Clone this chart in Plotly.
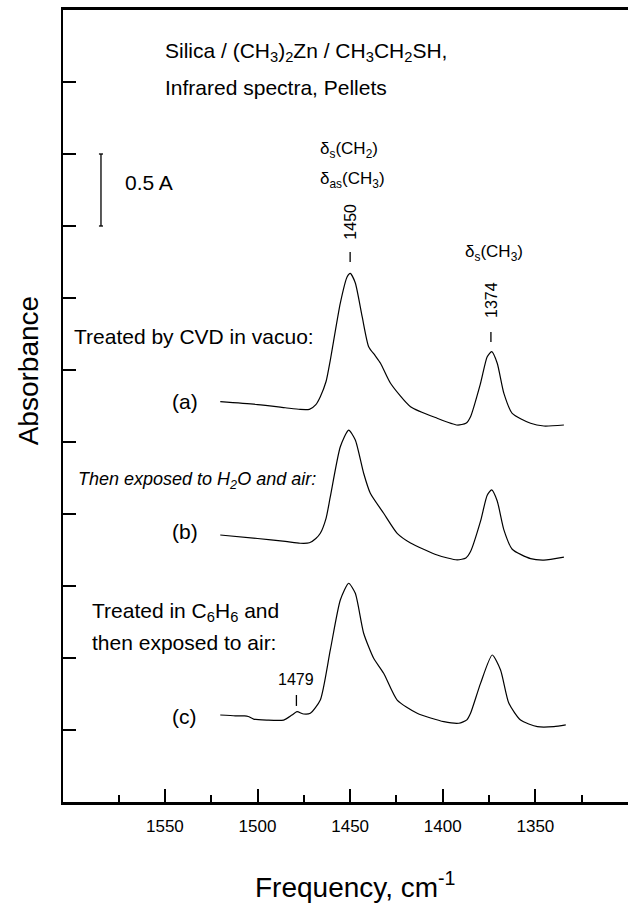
import plotly.graph_objects as go

# ---- data (frequency in cm-1, absorbance with vertical offsets) ----
freq_a = [1520.1, 1500.0, 1485.0, 1477.0, 1472.0, 1468.5, 1466.1, 1463.0, 1460.7, 1455.3, 1451.6,
          1449.9, 1447.2, 1443.5, 1440.0, 1436.5, 1433.6, 1428.2, 1417.4, 1403.0, 1392.2, 1387.5,
          1385.0, 1379.6, 1376.0, 1373.6, 1370.6, 1367.0, 1362.5, 1352.6, 1345.4, 1334.6]
abs_a = [2.780, 2.760, 2.738, 2.726, 2.727, 2.760, 2.815, 2.920, 3.069, 3.465, 3.648,
         3.671, 3.604, 3.370, 3.162, 3.100, 3.047, 2.908, 2.745, 2.665, 2.618, 2.630,
         2.676, 2.908, 3.092, 3.127, 3.047, 2.838, 2.699, 2.630, 2.611, 2.618]

freq_b = [1520.1, 1500.0, 1485.0, 1477.0, 1472.0, 1468.5, 1466.1, 1463.0, 1460.7, 1455.3, 1450.8,
          1447.2, 1442.7, 1439.1, 1431.9, 1424.6, 1417.4, 1403.0, 1392.2, 1387.5, 1385.0, 1379.6,
          1376.0, 1373.6, 1370.6, 1367.0, 1362.5, 1352.6, 1345.4, 1334.6]
abs_b = [1.854, 1.830, 1.810, 1.797, 1.800, 1.830, 1.866, 1.970, 2.120, 2.467, 2.583,
         2.514, 2.283, 2.144, 2.005, 1.866, 1.799, 1.715, 1.681, 1.695, 1.739, 1.950,
         2.130, 2.167, 2.090, 1.890, 1.755, 1.690, 1.680, 1.701]

freq_c = [1520.1, 1512.0, 1507.0, 1505.0, 1502.1, 1495.0, 1485.9, 1481.4, 1478.7, 1475.1, 1471.5,
          1466.1, 1460.7, 1455.3, 1450.8, 1447.2, 1442.7, 1437.3, 1431.9, 1424.6, 1413.8, 1399.4,
          1391.3, 1387.0, 1385.0, 1379.6, 1373.3, 1368.8, 1364.3, 1358.0, 1348.9, 1340.0, 1333.6]
abs_c = [0.604, 0.598, 0.598, 0.594, 0.576, 0.569, 0.569, 0.604, 0.627, 0.611, 0.616,
         0.708, 1.056, 1.403, 1.519, 1.449, 1.172, 0.998, 0.894, 0.708, 0.616, 0.558,
         0.547, 0.570, 0.616, 0.824, 1.021, 0.917, 0.685, 0.569, 0.523, 0.523, 0.535]

major_ticks = [1550, 1500, 1450, 1400, 1350]
minor_ticks = [1575, 1525, 1475, 1425, 1375, 1325]
y_ticks = [0.5, 1.0, 1.5, 2.0, 2.5, 3.0, 3.5, 4.0, 4.5, 5.0]

FONT = "Arial, Liberation Sans, Helvetica, sans-serif"

fig = go.Figure()
for fx, fy in [(freq_a, abs_a), (freq_b, abs_b), (freq_c, abs_c)]:
    fig.add_trace(go.Scatter(x=fx, y=fy, mode="lines", showlegend=False,
                             line=dict(color="black", width=1.2, shape="spline", smoothing=0.6)))

def ann(text, x, y, size=16, xanchor="left", angle=0, xref="x", yref="y"):
    fig.add_annotation(text=text, x=x, y=y, xref=xref, yref=yref, showarrow=False,
                       xanchor=xanchor, yanchor="middle", textangle=angle,
                       font=dict(family=FONT, size=size, color="black"))

ann("Silica / (CH<sub>3</sub>)<sub>2</sub>Zn / CH<sub>3</sub>CH<sub>2</sub>SH,", 1550.9, 5.208, 21)
ann("Infrared spectra, Pellets", 1550.9, 4.965, 21)
ann("0.5 A", 1572.6, 4.30, 21)
ann("δ<sub>s</sub>(CH<sub>2</sub>)", 1467.2, 4.528, 17)
ann("δ<sub>as</sub>(CH<sub>3</sub>)", 1467.2, 4.320, 17)
ann("1450", 1450, 4.031, 16, xanchor="center", angle=-90)
ann("δ<sub>s</sub>(CH<sub>3</sub>)", 1389.3, 3.8125, 17)
ann("1374", 1374, 3.486, 16, xanchor="center", angle=-90)
ann("Treated by CVD in vacuo:", 1600.1, 3.236, 21)
ann("(a)", 1539.3, 2.78, 21, xanchor="center")
ann("<i>Then exposed to H<sub>2</sub>O and air:</i>", 1598.0, 2.236, 18)
ann("(b)", 1539.3, 1.877, 21, xanchor="center")
ann("Treated in C<sub>6</sub>H<sub>6</sub> and", 1590.4, 1.319, 21)
ann("then exposed to air:", 1590.4, 1.111, 21)
ann("1479", 1479, 0.854, 16, xanchor="center")
ann("(c)", 1539.3, 0.593, 21, xanchor="center")
ann("Absorbance", -0.062, 0.545, 28, xanchor="center", angle=-90, xref="paper", yref="paper")
ann("Frequency, cm<sup>-1</sup>", 0.517, -0.105, 28, xanchor="center", xref="paper", yref="paper")

# scale bar and peak markers
line_style = dict(color="black", width=1.3)
fig.add_shape(type="line", x0=1584.5, x1=1584.5, y0=4.0, y1=4.5, line=line_style)
fig.add_shape(type="line", x0=1585.6, x1=1583.4, y0=4.5, y1=4.5, line=line_style)
fig.add_shape(type="line", x0=1585.6, x1=1583.4, y0=4.0, y1=4.0, line=line_style)
fig.add_shape(type="line", x0=1450, x1=1450, y0=3.75, y1=3.82, line=line_style)
fig.add_shape(type="line", x0=1374, x1=1374, y0=3.194, y1=3.264, line=line_style)
fig.add_shape(type="line", x0=1479, x1=1479, y0=0.667, y1=0.743, line=line_style)

fig.update_layout(
    width=628, height=913,
    margin=dict(l=63, r=0, t=10, b=111),
    paper_bgcolor="white", plot_bgcolor="white",
    font=dict(family=FONT, color="black"),
    xaxis=dict(range=[1605, 1300], showline=True, linecolor="black", linewidth=2.5, mirror=True,
               ticks="inside", ticklen=13, tickwidth=1.5, tickcolor="black",
               tickmode="array", tickvals=major_ticks, ticktext=[str(v) for v in major_ticks],
               tickfont=dict(size=17, family=FONT), showgrid=False, zeroline=False,
               ticklabelstandoff=7,
               minor=dict(tickmode="array", tickvals=minor_ticks, ticks="inside", ticklen=7,
                          tickwidth=1.5, tickcolor="black", showgrid=False)),
    yaxis=dict(range=[0, 5.5], showline=True, linecolor="black", linewidth=2,
               ticks="inside", ticklen=13, tickwidth=1.5, tickcolor="black",
               tickmode="array", tickvals=y_ticks, showticklabels=False,
               showgrid=False, zeroline=False),
)

fig.write_html("out.html")
